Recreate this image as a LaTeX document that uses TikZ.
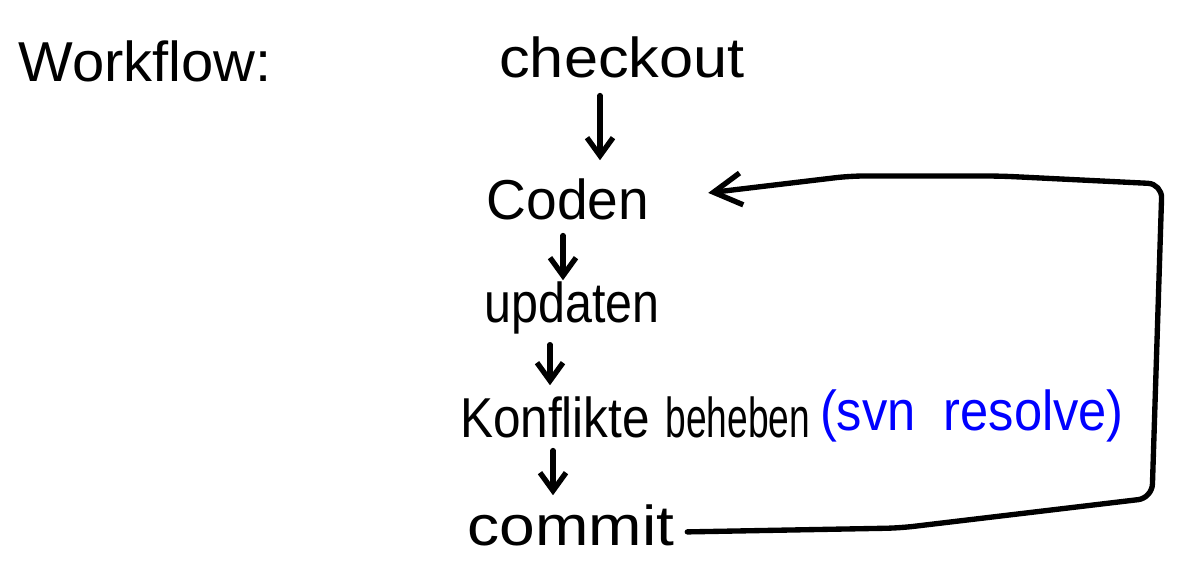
\documentclass[tikz,border=0pt]{standalone}
\usepackage{fontspec}
\setmainfont{Liberation Sans}
\usetikzlibrary{arrows.meta}
\newcommand{\sx}[2]{\scalebox{#1}[1]{#2}}
\tikzset{
  word/.style={anchor=base, inner sep=0pt, outer sep=0pt,
    font=\fontsize{40}{48}\selectfont},
  ink/.style={line width=3.8pt, line cap=round, line join=round},
  arr/.style={ink, -{Straight Barb[length=0.45cm, width=0.65cm, line width=3.8pt]}},
  backarr/.style={ink, -{Straight Barb[length=0.7cm, width=0.8cm, line width=3.8pt]}}
}
\begin{document}
\begin{tikzpicture}[x=0.025cm, y=-0.025cm]
  \useasboundingbox (0,0) rectangle (1177,571);
  % steps of the workflow
  \node[word] (workflow) at (145,82) {\sx{1.03}{Workflow:}};
  \node[word] (checkout) at (622,78) {\sx{1.09}{checkout}};
  \node[word] (coden) at (568,220) {\sx{0.98}{Coden}};
  \node[word] (updaten) at (572,322) {\sx{0.86}{updaten}};
  \node[word] (konflikte) at (635,437) {\sx{0.88}{Konflikte} \sx{0.66}{beheben}};
  \node[word, text=blue] (svn) at (972,430) {\sx{0.9}{(svn\ \ resolve)}};
  \node[word] (commit) at (571,545) {\sx{1.14}{commit}};
  % downward arrows between the steps
  \draw[arr] ([shift={(-22,17)}]checkout.south) -- ([shift={(32,-19)}]coden.north);
  \draw[arr] ([shift={(-5,15)}]coden.south) -- ([shift={(-9,-1)}]updaten.north);
  \draw[arr] ([shift={(-22,11)}]updaten.south) -- ([shift={(-85,-11)}]konflikte.north);
  \draw[arr] ([shift={(-82,13)}]konflikte.south) -- ([shift={(-18,-9)}]commit.north);
  % loop back from commit to Coden
  \draw[backarr, rounded corners=0.35cm]
    ([shift={(13,7)}]commit.east) -- (900,528) -- (1152,498)
    -- (1162,184) -- (1000,176) -- (850,176) -- ([shift={(59,-7)}]coden.east);
\end{tikzpicture}
\end{document}
